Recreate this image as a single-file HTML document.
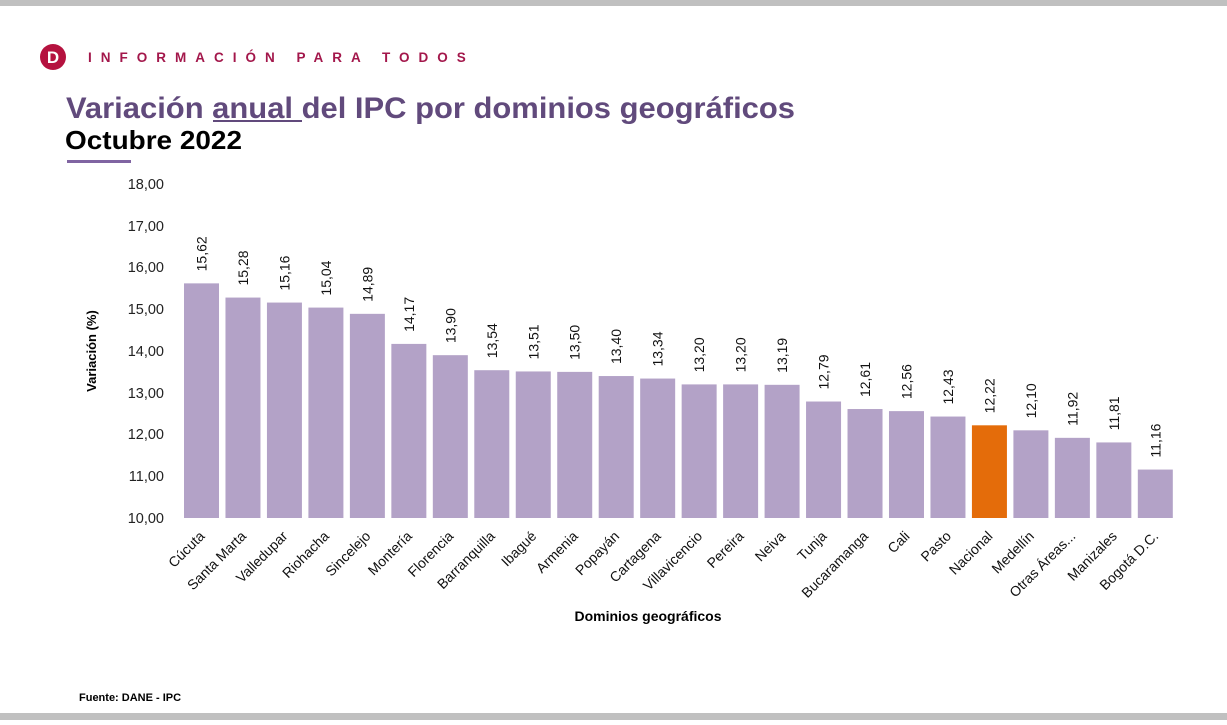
<!DOCTYPE html>
<html><head><meta charset="utf-8"><style>
body{margin:0;width:1227px;height:720px;background:#fff;overflow:hidden;font-family:"Liberation Sans","DejaVu Sans",sans-serif}
</style></head><body>
<svg width="1227" height="720" xmlns="http://www.w3.org/2000/svg" font-family="Liberation Sans, DejaVu Sans, sans-serif">
<rect x="0" y="0" width="1227" height="6" fill="#c0c0c0"/>
<rect x="0" y="713" width="1227" height="7" fill="#c0c0c0"/>
<circle cx="53" cy="57" r="13" fill="#b5123f"/>
<text x="53" y="63" font-size="17" font-weight="bold" fill="#fff" text-anchor="middle">D</text>
<text x="88" y="62" font-size="13.5" font-weight="bold" fill="#a3174b" letter-spacing="9">INFORMACIÓN PARA TODOS</text>
<text x="66" y="118" font-size="30" font-weight="bold" fill="#614a7c" textLength="729" lengthAdjust="spacingAndGlyphs">Variación anual del IPC por dominios geográficos</text>
<line x1="213" y1="121" x2="302" y2="121" stroke="#614a7c" stroke-width="2"/>
<text x="65" y="149" font-size="26" font-weight="bold" fill="#000" textLength="177" lengthAdjust="spacingAndGlyphs">Octubre 2022</text>
<rect x="67" y="160" width="64" height="3" fill="#8064a2"/>
<g font-size="14.5" fill="#222" text-anchor="end">
<text x="164" y="523">10,00</text><text x="164" y="481">11,00</text><text x="164" y="439">12,00</text><text x="164" y="398">13,00</text><text x="164" y="356">14,00</text><text x="164" y="314">15,00</text><text x="164" y="272">16,00</text><text x="164" y="231">17,00</text><text x="164" y="189">18,00</text>
</g>
<text transform="translate(96,351) rotate(-90)" font-size="13" font-weight="bold" text-anchor="middle">Variación (%)</text>
<text x="648" y="621" font-size="14" font-weight="bold" text-anchor="middle">Dominios geográficos</text>
<text x="79" y="701" font-size="11" font-weight="bold">Fuente: DANE - IPC</text>
<g id="bars"></g>
</svg>
<script>
var d=[["Cúcuta",15.62],["Santa Marta",15.28],["Valledupar",15.16],["Riohacha",15.04],["Sincelejo",14.89],["Montería",14.17],["Florencia",13.90],["Barranquilla",13.54],["Ibagué",13.51],["Armenia",13.50],["Popayán",13.40],["Cartagena",13.34],["Villavicencio",13.20],["Pereira",13.20],["Neiva",13.19],["Tunja",12.79],["Bucaramanga",12.61],["Cali",12.56],["Pasto",12.43],["Nacional",12.22],["Medellín",12.10],["Otras Áreas...",11.92],["Manizales",11.81],["Bogotá D.C.",11.16]];
var g=document.getElementById("bars"),s="";
d.forEach(function(e,i){var x=184+i*41.47,t=518-(e[1]-10)*41.75,cx=x+17.5;
s+='<rect x="'+x+'" y="'+t+'" width="35" height="'+(518-t)+'" fill="'+(e[0]=="Nacional"?"#e46c0a":"#b3a2c7")+'"/>';
s+='<text transform="translate('+(cx+5)+','+(t-12)+') rotate(-90)" font-size="14" fill="#111">'+e[1].toFixed(2).replace(".",",")+'</text>';
s+='<text transform="translate('+(cx+4)+',537) rotate(-45)" font-size="14" fill="#111" text-anchor="end">'+e[0]+'</text>';});
g.innerHTML=s;
</script>
</body></html>
